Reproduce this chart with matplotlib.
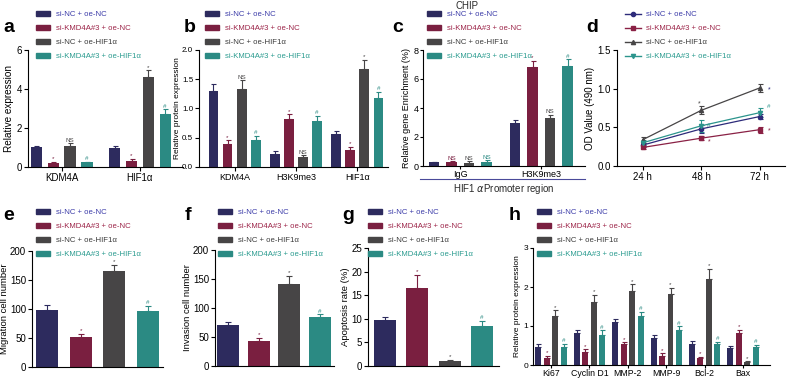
import numpy as np
import matplotlib
matplotlib.use('Agg')
import matplotlib.pyplot as plt
from matplotlib.patches import Patch
from matplotlib.lines import Line2D

plt.rcParams['font.family'] = ['Liberation Sans', 'DejaVu Sans']
plt.rcParams['mathtext.fontset'] = 'dejavusans'

W, H = 790, 380

groups = ['si-NC + oe-NC', 'si-KMD4A#3 + oe-NC', 'si-NC + oe-HIF1\u03b1', 'si-KMD4A#3 + oe-HIF1\u03b1']
bar_colors = ['#2d2b5e', '#7a1f40', '#474546', '#2b8a83']
text_colors = ['#3b3ba8', '#9c2448', '#3a3a3a', '#2a9b8f']
line_colors = ['#2d2b7a', '#8a2145', '#474546', '#2b948c']
markers = ['o', 's', '^', 'v']

# a - qPCR
a_cats = ['KDM4A', 'HIF1\u03b1']
a_vals = [[1.0, 0.97], [0.2, 0.3], [1.1, 4.6], [0.25, 2.7]]
a_err = [[0.08, 0.12], [0.07, 0.12], [0.12, 0.35], [0.03, 0.25]]
a_marks = [['', ''], ['*', '*'], ['NS', '*'], ['#', '#']]

# b - western blot
b_cats = ['KDM4A', 'H3K9me3', 'HIF1\u03b1']
b_vals = [[1.30, 0.23, 0.56], [0.40, 0.82, 0.29], [1.34, 0.17, 1.67], [0.455, 0.79, 1.18]]
b_err = [[0.12, 0.035, 0.06], [0.055, 0.08, 0.05], [0.14, 0.03, 0.16], [0.075, 0.085, 0.11]]
b_marks = [['', '', ''], ['*', '*', '*'], ['NS', 'NS', '*'], ['#', '#', '#']]

# c - ChIP
c_cats = ['IgG', 'H3K9me3']
c_vals = [[0.25, 3.0], [0.28, 6.85], [0.22, 3.3], [0.3, 6.9]]
c_err = [[0.04, 0.2], [0.04, 0.4], [0.1, 0.25], [0.08, 0.45]]
c_marks = [['', ''], ['NS', '*'], ['NS', 'NS'], ['NS', '#']]

# d - CCK-8
d_times = ['24 h', '48 h', '72 h']
d_vals = [[0.27, 0.48, 0.64], [0.24, 0.36, 0.47], [0.34, 0.72, 1.01], [0.30, 0.52, 0.69]]
d_err = [[0.03, 0.05, 0.03], [0.02, 0.03, 0.04], [0.04, 0.05, 0.05], [0.03, 0.08, 0.06]]

# e, f, g
e_vals = [98, 52, 165, 96]
e_err = [9, 4.5, 11, 9]
f_vals = [70, 43, 141, 84]
f_err = [6, 6, 14, 5]
g_vals = [9.7, 16.5, 1.0, 8.5]
g_err = [0.7, 2.8, 0.35, 1.0]
single_marks = ['', '*', '*', '#']

# h
h_cats = ['Ki67', 'Cyclin D1', 'MMP-2', 'MMP-9', 'Bcl-2', 'Bax']
h_vals = [[0.46, 0.82, 1.10, 0.69, 0.55, 0.44],
          [0.19, 0.33, 0.53, 0.24, 0.17, 0.83],
          [1.25, 1.61, 1.91, 1.82, 2.20, 0.07],
          [0.47, 0.78, 1.25, 0.91, 0.53, 0.47]]
h_err = [[0.07, 0.08, 0.07, 0.07, 0.07, 0.06],
         [0.04, 0.07, 0.05, 0.06, 0.03, 0.08],
         [0.15, 0.18, 0.16, 0.16, 0.26, 0.02],
         [0.08, 0.11, 0.11, 0.08, 0.06, 0.05]]
h_marks = [[''] * 6, ['*'] * 6, ['*'] * 6, ['#'] * 6]

fig = plt.figure(figsize=(W / 100, H / 100), dpi=100)


def px_axes(l, t, r, b):
    return fig.add_axes([l / W, 1 - b / H, (r - l) / W, (b - t) / H])


def style(ax, fs=7, tl=3):
    for s in ['top', 'right']:
        ax.spines[s].set_visible(False)
    for s in ['left', 'bottom']:
        ax.spines[s].set_linewidth(0.8)
    ax.tick_params(labelsize=fs, length=tl, width=0.8, pad=1.2)


def mark(ax, x, y, m, color):
    if m:
        ax.annotate(m, (x, y), xytext=(0, 0.5), textcoords='offset points',
                    ha='center', va='bottom', fontsize=4.5, color=color)


def grouped(ax, cats, vals, errs, marks, step, width):
    x = np.arange(len(cats))
    for i in range(4):
        pos = x + (i - 1.5) * step
        ax.bar(pos, vals[i], width, color=bar_colors[i])
        ax.errorbar(pos, vals[i], yerr=[np.zeros(len(cats)), errs[i]], fmt='none',
                    ecolor=bar_colors[i], elinewidth=0.8, capsize=1.8, capthick=0.8)
        for p, v, e, m in zip(pos, vals[i], errs[i], marks[i]):
            mark(ax, p, v + e, m, bar_colors[i])
    ax.set_xticks(x)
    ax.set_xticklabels(cats)


def single(ax, vals, errs, width):
    x = np.arange(4)
    for i in range(4):
        ax.bar(x[i], vals[i], width, color=bar_colors[i])
        ax.errorbar(x[i], vals[i], yerr=[[0], [errs[i]]], fmt='none',
                    ecolor=bar_colors[i], elinewidth=0.8, capsize=2.5, capthick=0.8)
        mark(ax, x[i], vals[i] + errs[i], single_marks[i], bar_colors[i])
    ax.set_xticks([])


def legend(ax, x, y, lines=False):
    if lines:
        handles = [Line2D([], [], color=line_colors[i], marker=markers[i], ms=3, lw=1) for i in range(4)]
        hl = 2.0
    else:
        handles = [Patch(color=bar_colors[i]) for i in range(4)]
        hl = 1.85
    ax.legend(handles, groups, loc='upper left', bbox_to_anchor=(x / W, 1 - y / H),
              bbox_transform=fig.transFigure, frameon=False, fontsize=5.6,
              labelcolor=text_colors, handlelength=hl, handleheight=0.65,
              handletextpad=0.75, labelspacing=0.86, borderpad=0, borderaxespad=0)


def letter(x, y, s):
    fig.text(x / W, 1 - y / H, s, fontsize=14, fontweight='bold', va='center', ha='left')


# panel a
ax = px_axes(28, 50, 183, 167)
style(ax)
grouped(ax, a_cats, a_vals, a_err, a_marks, 0.215, 0.145)
ax.set_xlim(-0.43, 1.55)
ax.set_ylim(0, 6)
ax.set_yticks([0, 2, 4, 6])
ax.set_ylabel('Relative expression', fontsize=7.2, labelpad=2)
legend(ax, 36, 11)
letter(3, 28, 'a')

# panel b
ax = px_axes(199, 50, 388, 167)
style(ax, 5.8)
grouped(ax, b_cats, b_vals, b_err, b_marks, 0.23, 0.16)
ax.tick_params(axis='x', labelsize=6.5)
ax.set_xlim(-0.58, 2.5)
ax.set_ylim(0, 2.0)
ax.set_yticks([0, 0.5, 1.0, 1.5, 2.0])
ax.set_ylabel('Relative protein expression', fontsize=6, labelpad=1)
legend(ax, 205, 11)
letter(184, 28, 'b')

# panel c
ax = px_axes(423, 50, 585, 166)
style(ax, 6.5, 2)
grouped(ax, c_cats, c_vals, c_err, c_marks, 0.216, 0.13)
ax.set_xlim(-0.46, 1.54)
ax.set_ylim(0, 8)
ax.set_yticks([0, 2, 4, 6, 8])
ax.set_ylabel('Relative gene Enrichment (%)', fontsize=6.5, labelpad=2)
ax.plot([-0.02, 1.0], [-0.11, -0.11], transform=ax.transAxes, clip_on=False,
        color='#4a4a9a', lw=0.8)
ax.text(0.5, -0.135, 'HIF1 $\\alpha$Promoter region', transform=ax.transAxes,
        ha='center', va='top', fontsize=7, color='#2a2a2a')
fig.text(467 / W, 1 - 6 / H, 'CHIP', fontsize=7, ha='center', va='center', color='#2a2a2a')
legend(ax, 427, 11)
letter(392, 28, 'c')

# panel d
ax = px_axes(617, 50, 785, 166)
style(ax)
xd = np.arange(3)
for i in range(4):
    ax.errorbar(xd, d_vals[i], yerr=d_err[i], color=line_colors[i], marker=markers[i],
                ms=3, lw=0.9, elinewidth=0.8, capsize=1.8, capthick=0.8)
ax.text(1 - 0.04, d_vals[2][1] + d_err[2][1] + 0.02, '*', fontsize=5, color=line_colors[2], ha='center')
ax.text(1 + 0.13, d_vals[3][1], '#', fontsize=4.5, color=line_colors[3], ha='center', va='center')
ax.text(1 + 0.13, d_vals[1][1] - 0.05, '*', fontsize=5, color=line_colors[1], ha='center', va='center')
ax.text(2 + 0.16, d_vals[2][2] - 0.02, '*', fontsize=5, color=line_colors[0], ha='center', va='center')
ax.text(2 + 0.16, d_vals[3][2] + 0.08, '#', fontsize=4.5, color=line_colors[3], ha='center', va='center')
ax.text(2 + 0.16, d_vals[1][2] - 0.02, '*', fontsize=5, color=line_colors[1], ha='center', va='center')
ax.set_xticks(xd)
ax.set_xticklabels(d_times)
ax.set_xlim(-0.44, 2.43)
ax.set_ylim(0, 1.5)
ax.set_yticks([0.0, 0.5, 1.0, 1.5])
ax.set_ylabel('OD Value (490 nm)', fontsize=7, labelpad=2)
legend(ax, 625, 11, lines=True)
letter(586, 28, 'd')

# panel e
ax = px_axes(32, 251, 163, 367)
style(ax)
single(ax, e_vals, e_err, 0.65)
ax.set_xlim(-0.45, 3.45)
ax.set_ylim(0, 200)
ax.set_yticks([0, 50, 100, 150, 200])
ax.set_ylabel('Migration cell number', fontsize=6.8, labelpad=1)
legend(ax, 36, 209)
letter(3, 215, 'e')

# panel f
ax = px_axes(215, 250, 334, 366)
style(ax)
single(ax, f_vals, f_err, 0.72)
ax.set_xlim(-0.42, 3.45)
ax.set_ylim(0, 200)
ax.set_yticks([0, 50, 100, 150, 200])
ax.set_ylabel('Invasion cell number', fontsize=6.8, labelpad=1)
legend(ax, 218, 209)
letter(185, 215, 'f')

# panel g
ax = px_axes(368, 248, 499, 366)
style(ax)
single(ax, g_vals, g_err, 0.68)
ax.set_xlim(-0.53, 3.52)
ax.set_ylim(0, 25)
ax.set_yticks([0, 5, 10, 15, 20, 25])
ax.set_ylabel('Apoptosis rate (%)', fontsize=6.8, labelpad=1)
legend(ax, 368, 209)
letter(342, 215, 'g')

# panel h
ax = px_axes(533, 248, 770, 365)
style(ax, 6, 2)
grouped(ax, h_cats, h_vals, h_err, h_marks, 0.22, 0.155)
ax.tick_params(axis='x', labelsize=6.3, pad=0.8)
ax.set_xlim(-0.47, 5.7)
ax.set_ylim(0, 3)
ax.set_yticks([0, 1, 2, 3])
ax.set_ylabel('Relative protein expression', fontsize=6, labelpad=2)
legend(ax, 537, 209)
letter(509, 215, 'h')

fig.savefig('out.png', dpi=100)
